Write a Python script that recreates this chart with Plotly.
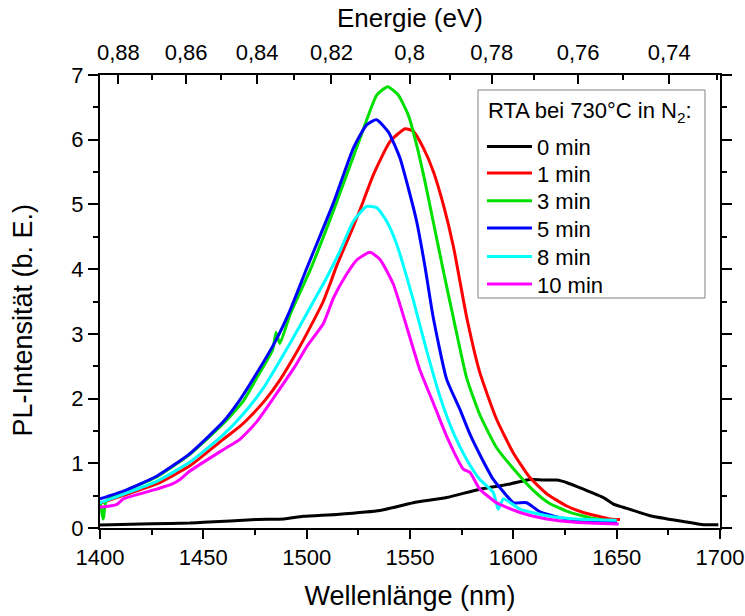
import plotly.graph_objects as go

# ---------------- data ----------------
wl_0min = [1400, 1425, 1443.5, 1450, 1475.8, 1489, 1498.4, 1514.5, 1535.5, 1551.6, 1567.7,
           1583.8, 1598.4, 1608, 1616.1, 1621, 1626, 1633.9, 1643.6, 1648.4, 1653.2, 1666.1,
           1682.2, 1692, 1699.2]
pl_0min = [0.046, 0.065, 0.077, 0.087, 0.13, 0.14, 0.18, 0.21, 0.27, 0.39, 0.47,
           0.60, 0.68, 0.75, 0.74, 0.74, 0.70, 0.60, 0.47, 0.37, 0.32, 0.19,
           0.10, 0.05, 0.05]

wl_1min = [1400, 1411, 1427.4, 1443.5, 1459.6, 1467.7, 1472.6, 1480, 1487.1, 1495.2, 1500,
           1508, 1511.3, 1514.5, 1522.6, 1527.4, 1532.3, 1540.3, 1547.6, 1551.6, 1556.5,
           1561.3, 1566.1, 1571, 1577.4, 1583.8, 1591.9, 1600, 1608, 1616.1, 1625.8,
           1633.9, 1640, 1646.8, 1651.6]
pl_1min = [0.38, 0.50, 0.68, 0.96, 1.37, 1.57, 1.72, 1.98, 2.29, 2.72, 3.00,
           3.50, 3.77, 4.05, 4.66, 5.05, 5.46, 5.97, 6.17, 6.13, 5.87,
           5.51, 5.00, 4.35, 3.26, 2.40, 1.68, 1.16, 0.78, 0.53, 0.34,
           0.24, 0.19, 0.14, 0.13]

wl_3min = [1400, 1401.6, 1403, 1411.3, 1427.4, 1443.5, 1459.6, 1469.3, 1476, 1483.5, 1485.2,
           1487, 1492, 1501.6, 1512.9, 1525.8, 1533.9, 1539.2, 1544.3, 1549.2, 1553.2,
           1557.2, 1561.2, 1566.1, 1570.9, 1577.4, 1583.8, 1591.9, 1601, 1609, 1617,
           1625.8, 1637, 1650]
pl_3min = [0.42, 0.14, 0.42, 0.56, 0.79, 1.14, 1.61, 1.96, 2.33, 2.75, 3.02,
           2.85, 3.30, 3.98, 4.90, 6.02, 6.69, 6.82, 6.69, 6.38, 5.92,
           5.36, 4.74, 3.98, 3.26, 2.32, 1.75, 1.24, 0.88, 0.60, 0.39,
           0.26, 0.16, 0.09]

wl_5min = [1400, 1411.3, 1427.4, 1443.5, 1459.6, 1467.7, 1475.8, 1485.1, 1491.9, 1500,
           1512.9, 1522.6, 1529, 1533.8, 1539.5, 1545.1, 1549.2, 1553.2, 1557.2, 1561.2,
           1567.7, 1574.2, 1579, 1584.5, 1590.3, 1596.8, 1600, 1606.4, 1612.9, 1622.6,
           1633.9, 1650]
pl_5min = [0.45, 0.57, 0.80, 1.15, 1.64, 1.98, 2.39, 2.90, 3.36, 4.01,
           5.02, 5.87, 6.23, 6.31, 6.12, 5.72, 5.25, 4.74, 4.05, 3.26,
           2.30, 1.83, 1.45, 1.09, 0.75, 0.50, 0.39, 0.39, 0.25, 0.16,
           0.11, 0.09]

wl_8min = [1400, 1411.3, 1427.4, 1443.5, 1459.6, 1469, 1479, 1491.9, 1500, 1509.7, 1516.1,
           1522.6, 1529, 1533.9, 1538.7, 1543.5, 1551.6, 1558, 1564.5, 1571, 1577.4,
           1583.8, 1590.3, 1592.7, 1595.2, 1603.2, 1616.1, 1630, 1650]
pl_8min = [0.39, 0.52, 0.72, 1.02, 1.44, 1.75, 2.16, 2.85, 3.31, 3.87, 4.28,
           4.74, 4.97, 4.95, 4.74, 4.39, 3.52, 2.75, 2.03, 1.47, 1.06,
           0.75, 0.55, 0.29, 0.45, 0.29, 0.19, 0.14, 0.12]

wl_10min = [1400, 1408, 1411.3, 1427.4, 1435, 1438.7, 1443.5, 1459.6, 1467.7, 1475.8, 1485.5,
            1495.2, 1500, 1508.1, 1512.9, 1519.3, 1524.2, 1530.6, 1535.5, 1541.9, 1548.4,
            1554.8, 1561.3, 1567.7, 1575.8, 1579, 1583.8, 1591.9, 1603.2, 1616.1, 1630, 1651]
pl_10min = [0.32, 0.36, 0.45, 0.60, 0.68, 0.75, 0.88, 1.21, 1.37, 1.64, 2.08,
            2.54, 2.80, 3.16, 3.55, 3.92, 4.14, 4.26, 4.15, 3.77, 3.11,
            2.44, 1.93, 1.42, 0.91, 0.86, 0.60, 0.39, 0.24, 0.14, 0.09, 0.06]

series_names = ["0 min", "1 min", "3 min", "5 min", "8 min", "10 min"]
series_colors = ["#000000", "#ff0000", "#00e000", "#0000ff", "#00ffff", "#ff00ff"]
series_x = [wl_0min, wl_1min, wl_3min, wl_5min, wl_8min, wl_10min]
series_y = [pl_0min, pl_1min, pl_3min, pl_5min, pl_8min, pl_10min]

energy_major = [0.88, 0.86, 0.84, 0.82, 0.80, 0.78, 0.76, 0.74]
energy_labels = ["0,88", "0,86", "0,84", "0,82", "0,8", "0,78", "0,76", "0,74"]
energy_minor = [0.87, 0.85, 0.83, 0.81, 0.79, 0.77, 0.75, 0.73]
HC = 1239.84  # eV*nm

legend_title = "RTA bei 730°C in N<sub>2</sub>:"
y_title = "PL-Intensität (b. E.)"

# ---------------- figure ----------------
FONT = "Liberation Sans, Arial, sans-serif"
fig = go.Figure()
legend_keys = ["legend", "legend2", "legend3", "legend4", "legend5", "legend6"]
for i, (name, col, xs, ys) in enumerate(zip(series_names, series_colors, series_x, series_y)):
    fig.add_trace(go.Scatter(x=xs, y=ys, mode="lines", name=name, legend=legend_keys[i],
                             line=dict(color=col, width=3, shape="spline", smoothing=0.5),
                             xaxis="x", yaxis="y"))

# invisible trace to carry the top energy axis
fig.add_trace(go.Scatter(x=[1400, 1700], y=[-1, -1], xaxis="x2", yaxis="y", mode="lines",
                         line=dict(width=0), showlegend=False, hoverinfo="skip"))

# legend frame + legend heading
fig.add_shape(type="rect", xref="paper", yref="paper",
              x0=0.6097, x1=0.9758, y0=0.5077, y1=0.9669,
              line=dict(color="#808080", width=1), fillcolor="white", layer="below")
fig.add_annotation(text=legend_title, xref="paper", yref="paper", x=0.623, y=0.919,
                   xanchor="left", yanchor="middle", showarrow=False,
                   font=dict(size=22, family=FONT, color="black"))
# y-axis title
fig.add_annotation(text=y_title, xref="paper", yref="paper", x=-0.1242, y=0.46,
                   xanchor="center", yanchor="middle", showarrow=False, textangle=-90,
                   font=dict(size=27, family=FONT, color="black"))

# one legend per entry so the row spacing matches the reference
legend_rows = [0.8417, 0.7830, 0.7219, 0.6616, 0.5989, 0.5380]
legend_layout = {}
for key, yrow in zip(legend_keys, legend_rows):
    legend_layout[key] = dict(x=0.6161, y=yrow, xanchor="left", yanchor="middle",
                              bgcolor="rgba(0,0,0,0)", borderwidth=0,
                              font=dict(size=22), itemwidth=45)

fig.update_layout(
    width=745, height=616,
    margin=dict(l=100, r=25, t=75, b=88),
    paper_bgcolor="white", plot_bgcolor="white",
    font=dict(family=FONT, color="black", size=21),
    showlegend=True,
    xaxis=dict(
        range=[1400, 1700], tickvals=[1400, 1450, 1500, 1550, 1600, 1650, 1700],
        ticks="outside", ticklen=9, tickwidth=2, tickcolor="black",
        showline=True, linewidth=2, linecolor="black", mirror=True,
        showgrid=False, zeroline=False, automargin=False,
        minor=dict(tickvals=[1425, 1475, 1525, 1575, 1625, 1675],
                   ticks="outside", ticklen=5, tickwidth=2, tickcolor="black"),
        title=dict(text="Wellenlänge (nm)", font=dict(size=27), standoff=17),
        tickfont=dict(size=22),
    ),
    xaxis2=dict(
        overlaying="x", side="top", range=[1400, 1700],
        tickvals=[HC / e for e in energy_major], ticktext=energy_labels,
        ticks="inside", ticklen=9, tickwidth=2, tickcolor="black",
        showline=True, linewidth=2, linecolor="black",
        showgrid=False, zeroline=False, automargin=False,
        minor=dict(tickvals=[HC / e for e in energy_minor],
                   ticks="inside", ticklen=5, tickwidth=2, tickcolor="black"),
        title=dict(text="Energie (eV)", font=dict(size=26), standoff=5),
        tickfont=dict(size=22), ticklabelstandoff=4,
    ),
    yaxis=dict(
        range=[0, 7], tickvals=list(range(0, 8)),
        ticks="outside", ticklen=10, tickwidth=2, tickcolor="black",
        showline=True, linewidth=2, linecolor="black", mirror="ticks",
        showgrid=False, zeroline=False, automargin=False,
        minor=dict(dtick=0.5, ticks="outside", ticklen=5, tickwidth=2, tickcolor="black"),
        tickfont=dict(size=22),
    ),
    **legend_layout,
)

fig.write_html("out.html")
